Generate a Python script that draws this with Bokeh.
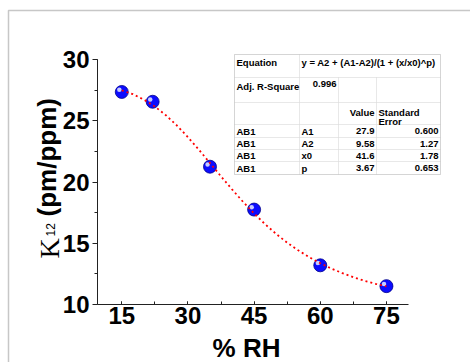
import math
from bokeh.plotting import figure
from bokeh.models import Range1d, SingleIntervalTicker, Label, BoxAnnotation, ColumnDataSource
from bokeh.transform import dodge
from bokeh.embed import file_html
from bokeh.resources import INLINE

# ---- data ----
rh = [15, 22, 35, 45, 60, 75]
k12 = [27.35, 26.55, 21.25, 17.75, 13.2, 11.5]

fit_rh = [15, 17.5, 20, 22.5, 25, 27.5, 30, 32.5, 35, 37.5, 40, 42.5, 45,
          47.5, 50, 52.5, 55, 57.5, 60, 62.5, 65, 67.5, 70, 72.5, 75]
fit_k12 = [27.48, 27.17, 26.73, 26.16, 25.45, 24.61, 23.66, 22.63, 21.55,
           20.46, 19.40, 18.38, 17.43, 16.55, 15.76, 15.05, 14.42, 13.86,
           13.37, 12.94, 12.56, 12.23, 11.94, 11.69, 11.47]

x_ticks = [15, 30, 45, 60, 75]
y_ticks = [10, 15, 20, 25, 30]

eq_label = "Equation"
eq_text = "y = A2 + (A1-A2)/(1 + (x/x0)^p)"
r2_label = "Adj. R-Square"
r2_value = "0.996"
hdr_value = "Value"
hdr_err = ["Standard", "Error"]
row_names = ["AB1", "AB1", "AB1", "AB1"]
param_names = ["A1", "A2", "x0", "p"]
param_values = ["27.9", "9.58", "41.6", "3.67"]
param_errors = ["0.600", "1.27", "1.78", "0.653"]

# ---- layout (pixel geometry of the axes box) ----
W, H = 470, 362
L, R, T, B = 97, 408, 59, 304
AX0, AX1 = 9.5, 80.0       # x extent of the drawn axes
AY0, AY1 = 10.0, 30.0      # y extent of the drawn axes
sx = (R - L) / (AX1 - AX0)
sy = (B - T) / (AY1 - AY0)
X0, X1 = AX0 - L / sx, AX0 + (W - L) / sx
Y0, Y1 = AY1 - (H - T) / sy, AY1 + T / sy


def dx(px):
    return X0 + px / sx


def dy(py):
    return Y1 - py / sy


p = figure(width=W, height=H, x_range=Range1d(X0, X1), y_range=Range1d(Y0, Y1),
           min_border=0, output_backend="svg", toolbar_location=None,
           outline_line_color=None, background_fill_color="white",
           border_fill_color="white")
p.xgrid.visible = False
p.ygrid.visible = False

FONT = "Liberation Sans"

xa = p.xaxis[0]
xa.fixed_location = AY0
xa.bounds = (AX0, AX1)
xa.ticker = SingleIntervalTicker(interval=15, num_minor_ticks=2)
xa.axis_line_color = "#222222"
xa.major_tick_in = 3
xa.major_tick_out = 0
xa.minor_tick_in = 3
xa.minor_tick_out = 0
xa.major_tick_line_color = "#222222"
xa.minor_tick_line_color = "#222222"
xa.major_label_text_font = FONT
xa.major_label_text_font_style = "bold"
xa.major_label_text_font_size = "24px"
xa.major_label_text_color = "black"
xa.major_label_standoff = 2

ya = p.yaxis[0]
ya.fixed_location = AX0
ya.bounds = (AY0, AY1)
ya.ticker = SingleIntervalTicker(interval=5, num_minor_ticks=2)
ya.axis_line_color = "#222222"
ya.major_tick_in = 0
ya.major_tick_out = 5
ya.minor_tick_in = 0
ya.minor_tick_out = 3
ya.major_tick_line_color = "#222222"
ya.minor_tick_line_color = "#222222"
ya.major_label_text_font = FONT
ya.major_label_text_font_style = "bold"
ya.major_label_text_font_size = "24px"
ya.major_label_text_color = "black"
ya.major_label_standoff = 3

# outer frame of the picture
p.add_layout(BoxAnnotation(left=dx(8), right=dx(520), top=dy(10), bottom=dy(420),
                           fill_alpha=0, line_color="#444444", line_width=1.5))

# data points (spheres)
src = ColumnDataSource(dict(rh=rh, k12=k12))
p.scatter("rh", "k12", source=src, size=13, fill_color="#0c0cff",
          line_color="#00008a", line_width=0.8)
p.scatter(x=dodge("rh", -0.55), y=dodge("k12", 0.18), source=src, size=4.5,
          fill_color="#c8ccff", line_color=None)

# fit curve
p.line(fit_rh, fit_k12, line_color="red", line_width=1.8, line_dash="2 3")

# axis titles
p.add_layout(Label(x=dx(246), y=dy(347), text="% RH", text_font=FONT,
                   text_font_style="bold", text_font_size="26px",
                   text_align="center", text_baseline="middle",
                   text_color="black"))
p.add_layout(Label(x=dx(49), y=dy(258), text="K", text_font="Liberation Serif",
                   text_font_size="28px", angle=math.pi / 2,
                   text_align="left", text_baseline="alphabetic", text_color="black"))
p.add_layout(Label(x=dx(50), y=dy(236), text="12", text_font=FONT,
                   text_font_size="12px", angle=math.pi / 2,
                   text_align="left", text_baseline="alphabetic", text_color="black"))
p.add_layout(Label(x=dx(46), y=dy(216), text="(pm/ppm)", text_font=FONT,
                   text_font_style="bold", text_font_size="26px", angle=math.pi / 2,
                   text_align="left", text_baseline="alphabetic", text_color="black"))

# ---- fit table ----
cx = [234, 299, 338, 376, 440]
ry = [54, 77, 102, 124, 137, 149, 161, 174]
GRID = "#c8c8c8"


def cell(x0, x1, y0, y1, color=GRID):
    p.add_layout(BoxAnnotation(left=dx(x0), right=dx(x1), top=dy(y0), bottom=dy(y1),
                               fill_color="white", fill_alpha=1.0,
                               line_color=color, line_width=1))


cell(cx[0], cx[1], ry[0], ry[1])
cell(cx[1], cx[4], ry[0], ry[1])
for r in range(1, 7):
    for c in range(4):
        cell(cx[c], cx[c + 1], ry[r], ry[r + 1])
p.add_layout(BoxAnnotation(left=dx(cx[0]), right=dx(cx[4]), top=dy(ry[0]),
                           bottom=dy(ry[7]), fill_alpha=0, line_color="#9a9a9a",
                           line_width=1))

TS = "9.5px"


def txt(px, py, s, align="left", baseline="top"):
    p.add_layout(Label(x=dx(px), y=dy(py), text=s, text_font=FONT,
                       text_font_style="bold", text_font_size=TS,
                       text_align=align, text_baseline=baseline, text_color="black"))


txt(cx[0] + 2, ry[0] + 2, eq_label)
txt(cx[1] + 2, ry[0] + 2, eq_text)
txt(cx[0] + 2, ry[1] + 3, r2_label)
txt(cx[2] - 2, ry[1] + 3, r2_value, align="right")
txt(cx[3] - 2, ry[2] + 4, hdr_value, align="right")
txt(cx[3] + 2, ry[2] + 4, hdr_err[0])
txt(cx[3] + 2, ry[2] + 13, hdr_err[1])
for i in range(4):
    ym = (ry[3 + i] + ry[4 + i]) / 2
    txt(cx[0] + 2, ym, row_names[i], baseline="middle")
    txt(cx[1] + 2, ym, param_names[i], baseline="middle")
    txt(cx[3] - 2, ym, param_values[i], align="right", baseline="middle")
    txt(cx[4] - 2, ym, param_errors[i], align="right", baseline="middle")

open("out.html", "w").write(file_html(p, INLINE))
